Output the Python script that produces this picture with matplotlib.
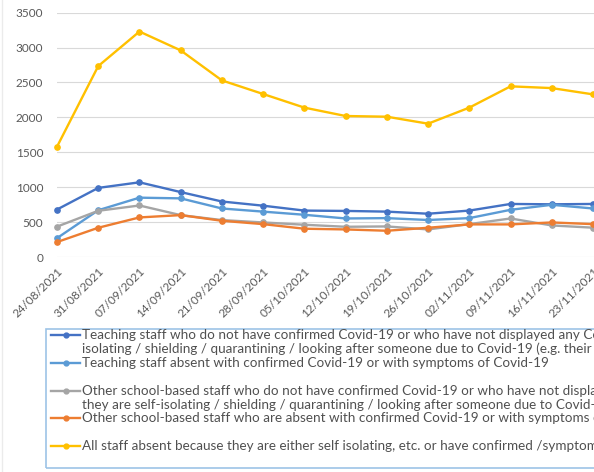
import matplotlib
matplotlib.use("Agg")
import matplotlib.pyplot as plt
from matplotlib.lines import Line2D
from matplotlib.patches import Rectangle

plt.rcParams['font.family'] = ['Lato', 'DejaVu Sans']

dates = ['24/08/2021', '31/08/2021', '07/09/2021', '14/09/2021', '21/09/2021',
         '28/09/2021', '05/10/2021', '12/10/2021', '19/10/2021', '26/10/2021',
         '02/11/2021', '09/11/2021', '16/11/2021', '23/11/2021']

teaching_isolating = [680, 990, 1070, 930, 795, 735, 665, 660, 650, 620, 665, 760, 755, 760]
teaching_covid = [270, 670, 850, 840, 695, 650, 605, 552, 557, 530, 557, 676, 748, 695]
other_isolating = [435, 662, 738, 600, 529, 495, 462, 433, 438, 395, 471, 552, 452, 420]
other_covid = [214, 419, 567, 600, 519, 471, 405, 395, 376, 419, 467, 467, 495, 471]
all_staff = [1580, 2735, 3230, 2960, 2530, 2335, 2140, 2020, 2010, 1910, 2140, 2445, 2420, 2330]

series = [teaching_isolating, teaching_covid, other_isolating, other_covid, all_staff]
colors = ['#4472C4', '#5B9BD5', '#A5A5A5', '#ED7D31', '#FFC000']
labels = [
    ['Teaching staff who do not have confirmed Covid-19 or who have not displayed any Covid-19 symptoms but are absent because they are self-',
     'isolating / shielding / quarantining / looking after someone due to Covid-19 (e.g. their child)'],
    ['Teaching staff absent with confirmed Covid-19 or with symptoms of Covid-19'],
    ['Other school-based staff who do not have confirmed Covid-19 or who have not displayed any Covid-19 symptoms but are absent because',
     'they are self-isolating / shielding / quarantining / looking after someone due to Covid-19 (e.g. their child)'],
    ['Other school-based staff who are absent with confirmed Covid-19 or with symptoms of Covid-19'],
    ['All staff absent because they are either self isolating, etc. or have confirmed /symptoms of Covid-19'],
]

W, H = 594, 472
fig = plt.figure(figsize=(W / 100, H / 100), dpi=100)

# plot area runs off the right edge, like the cropped original
step = (593 - 57) / 13
ax = fig.add_axes([57 / W, 1 - 257 / H, 13.5 * step / W, (257 - 12.7) / H])
x = list(range(len(dates)))
for vals, c in zip(series, colors):
    ax.plot(x, vals, color=c, lw=1.7, marker='o', ms=3.8, clip_on=False, zorder=3)

ax.set_xlim(0, 13.5)
ax.set_ylim(0, 3500)
ax.set_yticks(range(0, 3501, 500))
ax.set_xticks(x)
ax.set_xticklabels(dates, rotation=45, ha='right', rotation_mode='anchor')
ax.grid(axis='y', color='#D9D9D9', lw=0.8)
ax.set_axisbelow(True)
for s in ax.spines.values():
    s.set_visible(False)
ax.tick_params(axis='y', length=0, pad=10, labelsize=8.5, labelcolor='#595959')
ax.tick_params(axis='x', length=0, pad=6, labelsize=8.5, labelcolor='#595959')

# legend box below the plot
def fy(py):
    return 1 - py / H

fig.add_artist(Rectangle((46 / W, fy(468)), 1.0, (468 - 329) / H, transform=fig.transFigure,
                         fill=False, edgecolor='#9DC3E6', lw=1.2))
pitch = 13.9
row = 0
for lines, c in zip(labels, colors):
    y0 = 335 + row * pitch
    fig.add_artist(Line2D([51 / W, 80 / W], [fy(y0), fy(y0)], color=c, lw=1.7,
                          transform=fig.transFigure))
    fig.add_artist(Line2D([65.5 / W], [fy(y0)], color=c, marker='o', ms=3.5,
                          transform=fig.transFigure))
    for i, t in enumerate(lines):
        fig.text(82 / W, fy(y0 + i * pitch), t, fontsize=9.7, color='#505050', va='center', ha='left')
    row += 2

# faint outer border on the left
fig.add_artist(Line2D([1.5 / W, 1.5 / W], [0, 1], color='#EBEBEB', lw=1, transform=fig.transFigure))

fig.savefig('out.png', dpi=100, facecolor='white')
